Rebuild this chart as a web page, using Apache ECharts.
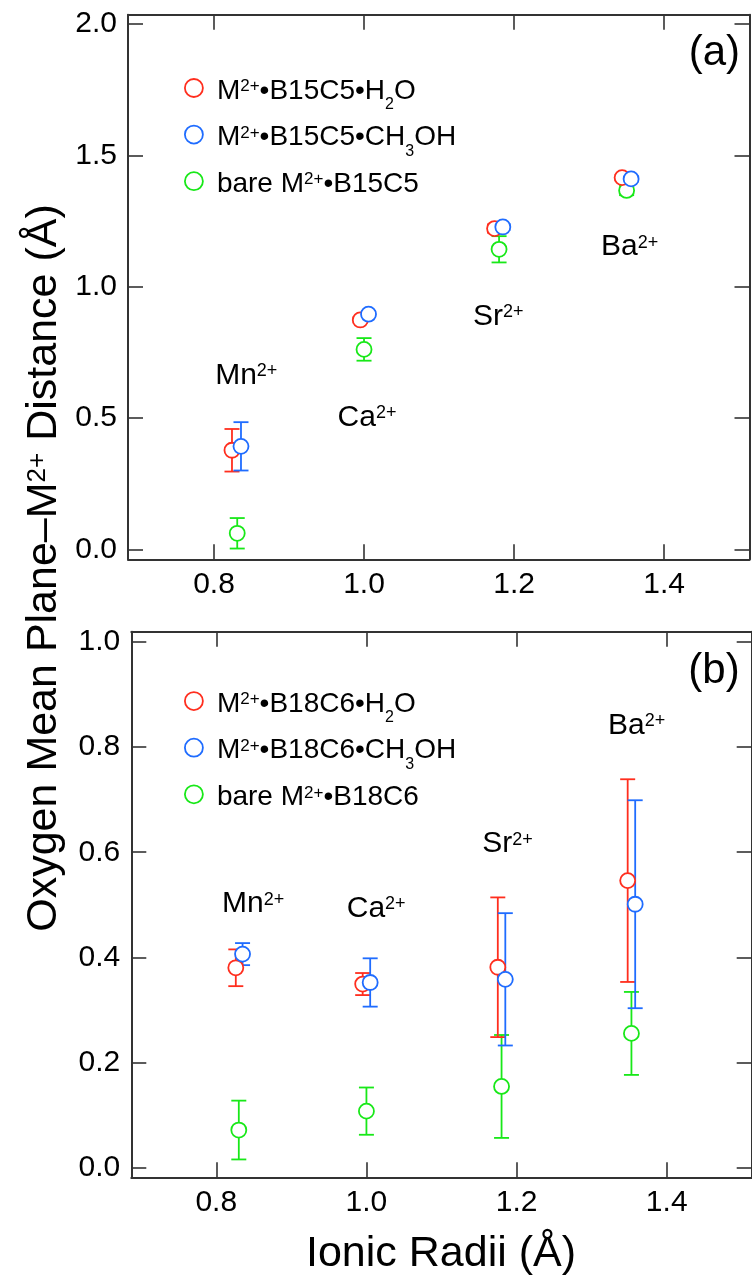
<!DOCTYPE html>
<html><head><meta charset="utf-8">
<script src="https://cdn.jsdelivr.net/npm/echarts@6/dist/echarts.min.js"></script>
<style>html,body{margin:0;padding:0;background:#fff}#c{width:752px;height:1283px}</style>
</head><body><div id="c"></div>
<script>
// ---------- data ----------
const ionLabels = ['Mn', 'Ca', 'Sr', 'Ba'];
const xTicks = [0.8, 1.0, 1.2, 1.4];
const yTicksA = [0.0, 0.5, 1.0, 1.5, 2.0];
const yTicksB = [0.0, 0.2, 0.4, 0.6, 0.8, 1.0];

// panel (a): B15C5
const redXA = [0.824, 0.995, 1.174, 1.344];
const redYA = [0.377, 0.873, 1.221, 1.415];
const redErrA = [0.081, 0.010, 0.016, 0.010];
const blueXA = [0.836, 1.006, 1.185, 1.356];
const blueYA = [0.392, 0.895, 1.227, 1.410];
const blueErrA = [0.092, 0.010, 0.012, 0.010];
const greenXA = [0.831, 1.000, 1.180, 1.350];
const greenYA = [0.061, 0.761, 1.142, 1.366];
const greenErrA = [0.058, 0.043, 0.050, 0.018];
const labelXA = [0.843, 1.004, 1.179, 1.354];
const labelYA = [0.671, 0.510, 0.894, 1.159];

// panel (b): B18C6
const redXB = [0.826, 0.995, 1.175, 1.348];
const redYB = [0.380, 0.349, 0.381, 0.546];
const redErrB = [0.035, 0.021, 0.133, 0.193];
const blueXB = [0.835, 1.005, 1.185, 1.358];
const blueYB = [0.406, 0.352, 0.358, 0.501];
const blueErrB = [0.021, 0.046, 0.126, 0.198];
const greenXB = [0.830, 1.000, 1.180, 1.353];
const greenYB = [0.071, 0.107, 0.154, 0.255];
const greenErrB = [0.056, 0.045, 0.098, 0.079];
const labelXB = [0.849, 1.013, 1.188, 1.360];
const labelYB = [0.506, 0.497, 0.620, 0.846];

const panelTags = ['(a)', '(b)'];
const panelTagPosA = [1.467, 1.888];
const panelTagPosB = [1.463, 0.944];

const legendNamesA = ['M2+•B15C5•H2O', 'M2+•B15C5•CH3OH', 'bare M2+•B15C5'];
const legendNamesB = ['M2+•B18C6•H2O', 'M2+•B18C6•CH3OH', 'bare M2+•B18C6'];
const legendRich = {
  'M2+•B15C5•H2O': '{b|M}{sup|2+}{b|•B15C5•H}{sub|2}{b|O}',
  'M2+•B15C5•CH3OH': '{b|M}{sup|2+}{b|•B15C5•CH}{sub|3}{b|OH}',
  'bare M2+•B15C5': '{b|bare M}{sup|2+}{b|•B15C5}',
  'M2+•B18C6•H2O': '{b|M}{sup|2+}{b|•B18C6•H}{sub|2}{b|O}',
  'M2+•B18C6•CH3OH': '{b|M}{sup|2+}{b|•B18C6•CH}{sub|3}{b|OH}',
  'bare M2+•B18C6': '{b|bare M}{sup|2+}{b|•B18C6}'
};

// ---------- style ----------
const FF = "'Liberation Sans', Arial, Helvetica, sans-serif";
const RED = '#ff2e1e', BLUE = '#1f6cff', GREEN = '#18e818';
const AX = '#333';

function makeRich(F, S, S2) {
  const Lb = Math.round(F * 1.15);
  const B = Lb / 2 + 0.34 * F;
  const capC = B - 0.358 * F;
  const supC = (B - 0.36 * F) - 0.34 * S;
  const subC = (B + 0.28 * F) - 0.34 * S2;
  const bottom = Math.max(Lb, subC + S2 / 2);
  const t = Math.max(0, bottom - 2 * capC);
  const H = t + bottom;
  const base = { fontFamily: FF, color: '#000', verticalAlign: 'top' };
  return {
    H: H,
    rich: {
      b: Object.assign({}, base, { fontSize: F, lineHeight: Lb, padding: [t, 0, H - t - Lb, 0] }),
      sup: Object.assign({}, base, { fontSize: S, lineHeight: S, padding: [Math.max(0, t + supC - S / 2), 0, 0, 0] }),
      sub: Object.assign({}, base, { fontSize: S2, lineHeight: S2, padding: [t + subC - S2 / 2, 0, 0, 0] })
    }
  };
}
const legR = makeRich(28, 17, 16);
const annR = makeRich(30, 18, 16);
const titR = makeRich(43, 26, 24);

// ---------- layout ----------
const gridA = { left: 128, top: 14.7, width: 621.5, height: 544.6 };
const gridB = { left: 131.3, top: 631.8, width: 620.4, height: 545.5 };
const xRangeA = [0.6854, 1.5138], yRangeA = [-0.038, 2.035];
const xRangeB = [0.6868, 1.5132], yRangeB = [-0.019, 1.0198];

function xAx(gi, range, pos, lab) {
  return {
    type: 'value', gridIndex: gi, min: range[0], max: range[1], position: pos,
    axisLine: { show: true, onZero: false, lineStyle: { color: AX, width: 2 } },
    axisTick: { show: true, inside: true, length: 15, customValues: xTicks, lineStyle: { color: AX, width: 1.6 } },
    axisLabel: { show: lab, customValues: xTicks, formatter: v => v.toFixed(1), fontSize: 30, color: '#000', fontFamily: FF, margin: 10 },
    splitLine: { show: false }
  };
}
function yAx(gi, range, pos, lab, ticks) {
  return {
    type: 'value', gridIndex: gi, min: range[0], max: range[1], position: pos,
    axisLine: { show: true, onZero: false, lineStyle: { color: AX, width: 2 } },
    axisTick: { show: true, inside: true, length: 15, customValues: ticks, lineStyle: { color: AX, width: 1.6 } },
    axisLabel: { show: lab, customValues: ticks, formatter: v => v.toFixed(1), fontSize: 30, color: '#000', fontFamily: FF, margin: 11 },
    splitLine: { show: false }
  };
}

function errSeries(name, xs, ys, es, color, xi, yi) {
  return {
    type: 'custom', name: name, xAxisIndex: xi, yAxisIndex: yi, z: 2, silent: true,
    data: xs.map((x, i) => [x, ys[i] - es[i], ys[i] + es[i]]),
    encode: { x: 0, y: [1, 2] },
    renderItem: function (params, api) {
      const x = api.value(0);
      const lo = api.coord([x, api.value(1)]);
      const hi = api.coord([x, api.value(2)]);
      const w = 7.5;
      const st = { stroke: color, lineWidth: 1.8, fill: null };
      return {
        type: 'group', children: [
          { type: 'line', shape: { x1: lo[0], y1: lo[1], x2: hi[0], y2: hi[1] }, style: st },
          { type: 'line', shape: { x1: lo[0] - w, y1: lo[1], x2: lo[0] + w, y2: lo[1] }, style: st },
          { type: 'line', shape: { x1: hi[0] - w, y1: hi[1], x2: hi[0] + w, y2: hi[1] }, style: st }
        ]
      };
    }
  };
}
function ptSeries(name, xs, ys, color, xi, yi, z) {
  return {
    type: 'scatter', name: name, xAxisIndex: xi, yAxisIndex: yi, z: z, silent: true,
    symbol: 'circle', symbolSize: 15,
    itemStyle: { color: '#fff', borderColor: color, borderWidth: 1.8, opacity: 1 },
    data: xs.map((x, i) => [x, ys[i]])
  };
}
function annSeries(xs, ys, xi, yi) {
  return {
    type: 'scatter', name: 'ann' + xi, xAxisIndex: xi, yAxisIndex: yi, z: 6, silent: true,
    symbol: 'circle', symbolSize: 1, itemStyle: { color: 'rgba(0,0,0,0)' },
    data: xs.map((x, i) => [x, ys[i], ionLabels[i]]),
    label: {
      show: true, position: 'inside', opacity: 1,
      formatter: p => '{b|' + p.data[2] + '}{sup|2+}',
      rich: annR.rich
    }
  };
}
function tagSeries(pos, text, xi, yi) {
  return {
    type: 'scatter', name: 'tag' + xi, xAxisIndex: xi, yAxisIndex: yi, z: 6, silent: true,
    symbol: 'circle', symbolSize: 1, itemStyle: { color: 'rgba(0,0,0,0)' },
    data: [[pos[0], pos[1], text]],
    label: { show: true, position: 'inside', opacity: 1, formatter: p => p.data[2], fontSize: 42, fontFamily: FF, color: '#000' }
  };
}
function legendFor(names, rowCenter) {
  const gap = 46.6;
  return {
    data: names, orient: 'vertical', left: 179, top: rowCenter - legR.H / 2,
    itemWidth: 20, itemHeight: 18, itemGap: gap - legR.H,
    selectedMode: false,
    formatter: n => legendRich[n],
    textStyle: { rich: legR.rich, padding: [0, 0, 0, 8] },
    itemStyle: { borderWidth: 1.8 }
  };
}

const option = {
  animation: false,
  backgroundColor: '#fff',
  grid: [
    Object.assign({ containLabel: false, outerBoundsMode: 'none' }, gridA),
    Object.assign({ containLabel: false, outerBoundsMode: 'none' }, gridB)
  ],
  xAxis: [
    xAx(0, xRangeA, 'bottom', true), xAx(0, xRangeA, 'top', false),
    xAx(1, xRangeB, 'bottom', true), xAx(1, xRangeB, 'top', false)
  ],
  yAxis: [
    yAx(0, yRangeA, 'left', true, yTicksA), yAx(0, yRangeA, 'right', false, yTicksA),
    yAx(1, yRangeB, 'left', true, yTicksB), yAx(1, yRangeB, 'right', false, yTicksB)
  ],
  legend: [legendFor(legendNamesA, 87.4), legendFor(legendNamesB, 700.5)],
  series: [
    errSeries('eGa', greenXA, greenYA, greenErrA, GREEN, 0, 0),
    errSeries('eRa', redXA, redYA, redErrA, RED, 0, 0),
    errSeries('eBa', blueXA, blueYA, blueErrA, BLUE, 0, 0),
    ptSeries(legendNamesA[2], greenXA, greenYA, GREEN, 0, 0, 3),
    ptSeries(legendNamesA[0], redXA, redYA, RED, 0, 0, 4),
    ptSeries(legendNamesA[1], blueXA, blueYA, BLUE, 0, 0, 5),
    annSeries(labelXA, labelYA, 0, 0),
    tagSeries(panelTagPosA, panelTags[0], 0, 0),

    errSeries('eGb', greenXB, greenYB, greenErrB, GREEN, 2, 2),
    errSeries('eRb', redXB, redYB, redErrB, RED, 2, 2),
    errSeries('eBb', blueXB, blueYB, blueErrB, BLUE, 2, 2),
    ptSeries(legendNamesB[2], greenXB, greenYB, GREEN, 2, 2, 3),
    ptSeries(legendNamesB[0], redXB, redYB, RED, 2, 2, 4),
    ptSeries(legendNamesB[1], blueXB, blueYB, BLUE, 2, 2, 5),
    annSeries(labelXB, labelYB, 2, 2),
    tagSeries(panelTagPosB, panelTags[1], 2, 2)
  ],
  graphic: [
    {
      type: 'text', x: 40, y: 568, rotation: Math.PI / 2,
      style: {
        text: '{b|Oxygen Mean Plane–M}{sup|2+}{b| Distance (Å)}',
        rich: titR.rich, align: 'center', verticalAlign: 'middle'
      }
    },
    {
      type: 'text', x: 441, y: 1250,
      style: {
        text: '{b|Ionic Radii (Å)}', rich: titR.rich, align: 'center', verticalAlign: 'middle'
      }
    }
  ]
};
const chart = echarts.init(document.getElementById('c'), null, { renderer: 'canvas' });
chart.setOption(option);
</script>
</body></html>
